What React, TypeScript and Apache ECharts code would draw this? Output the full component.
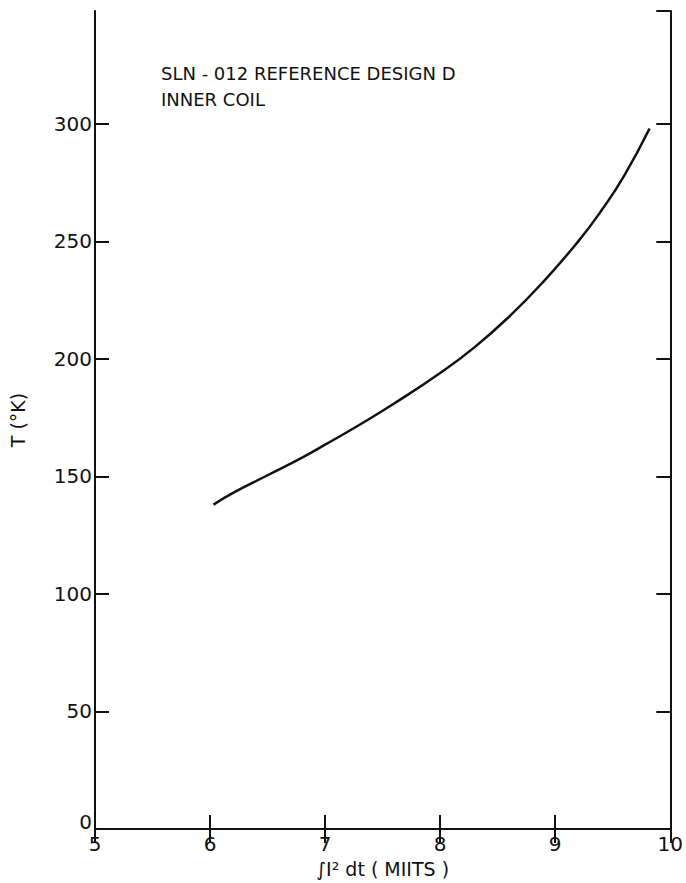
import React, { useEffect, useRef } from "react";
import * as echarts from "echarts";

const miits = [6.03, 6.2, 6.5, 6.8, 7.0, 7.3, 7.6, 8.0, 8.3, 8.6, 8.9, 9.2, 9.4, 9.6, 9.82];
const tempK = [138, 143, 150.5, 158, 163.5, 172, 181, 194, 205, 218, 233, 250, 263, 278, 298];
const annotationLines = ["SLN - 012 REFERENCE DESIGN D", "INNER COIL"];
const xTitle = "∫I² dt ( MIITS )";
const yTitle = "T (°K)";

export default function App() {
  const ref = useRef<HTMLDivElement>(null);
  useEffect(() => {
    if (!ref.current) return;
    const chart = echarts.init(ref.current, null, { renderer: "svg" });
    const font = "DejaVu Sans";
    const axisLine = { show: true, lineStyle: { color: "#111", width: 2 } };
    const tick = { show: true, inside: true, length: 14, lineStyle: { color: "#111", width: 2 } };
    chart.setOption({
      animation: false,
      backgroundColor: "#fff",
      grid: { left: 94, right: 13, top: 11, bottom: 47, containLabel: false },
      xAxis: [
        {
          type: "value", min: 5, max: 10, interval: 1, position: "bottom",
          axisLine, axisTick: tick, splitLine: { show: false },
          axisLabel: { color: "#111", fontSize: 20, fontFamily: font, margin: 5 },
          name: xTitle, nameLocation: "middle", nameGap: 30,
          nameTextStyle: { color: "#111", fontSize: 19, fontFamily: font },
        },
        {
          type: "value", min: 5, max: 10, interval: 1, position: "top",
          axisLine, axisTick: tick, splitLine: { show: false }, axisLabel: { show: false },
        },
      ],
      yAxis: [
        {
          type: "value", min: 0, max: 348, interval: 50, position: "left",
          axisLine, axisTick: tick, splitLine: { show: false },
          axisLabel: {
            color: "#111", fontSize: 20, fontFamily: font, margin: 3, showMaxLabel: false,
            formatter: (v: number) => (v === 0 ? "{z|0}" : String(v)),
            rich: { z: { color: "#111", fontSize: 20, fontFamily: font, padding: [0, 0, 14, 0] } },
          },
          name: yTitle, nameLocation: "middle", nameGap: 68, nameRotate: 90,
          nameTextStyle: { color: "#111", fontSize: 19, fontFamily: font },
        },
        {
          type: "value", min: 0, max: 348, interval: 50, position: "right",
          axisLine, axisTick: tick, splitLine: { show: false }, axisLabel: { show: false },
        },
      ],
      series: [
        {
          type: "line",
          data: miits.map((x, i) => [x, tempK[i]]),
          smooth: true,
          showSymbol: false,
          lineStyle: { color: "#111", width: 2.5 },
        },
      ],
      graphic: [
        {
          type: "text", left: 161, top: 60,
          style: { text: annotationLines.join("\n"), fill: "#111", fontSize: 18, fontFamily: font, lineHeight: 26 },
        },
      ],
    });
    return () => chart.dispose();
  }, []);
  return <div ref={ref} style={{ position: "fixed", left: 0, top: 0, width: 686, height: 883, background: "#fff" }} />;
}
